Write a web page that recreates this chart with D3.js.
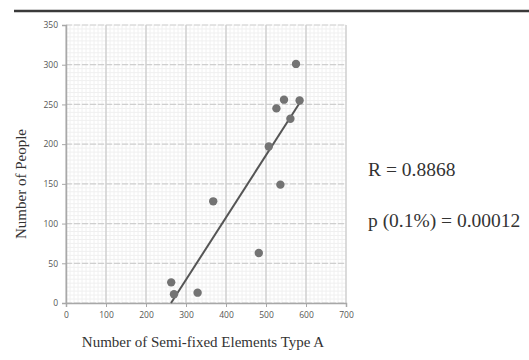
<!DOCTYPE html>
<html>
<head>
<meta charset="utf-8">
<script src="https://cdn.jsdelivr.net/npm/d3@7"></script>
<style>
body { margin: 0; background: #fff; }
</style>
</head>
<body>
<div id="chart"></div>
<script>
var elemsA = [263, 270, 329, 368, 482, 536, 507, 526, 545, 561, 575, 584];
var people = [26, 11, 13, 128, 63, 149, 197, 245, 256, 232, 301, 255];
var xTicks = [0, 100, 200, 300, 400, 500, 600, 700];
var yTicks = [0, 50, 100, 150, 200, 250, 300, 350];
var statLines = ["R = 0.8868", "p (0.1%) = 0.00012"];

var W = 529, H = 360;
var svg = d3.select("#chart").append("svg")
    .attr("width", W)
    .attr("height", H);

// top rule
svg.append("line")
    .attr("x1", 14).attr("x2", W)
    .attr("y1", 11).attr("y2", 11)
    .attr("stroke", "#3a3a3a")
    .attr("stroke-width", 2.5);

var x = d3.scaleLinear().domain([0, 700]).range([66, 346]);
var y = d3.scaleLinear().domain([0, 350]).range([303, 25]);

// minor grid
var g = svg.append("g");
g.selectAll(".mx").data(d3.range(0, 701, 10)).enter().append("line")
    .attr("x1", d => x(d)).attr("x2", d => x(d))
    .attr("y1", y(0)).attr("y2", y(350))
    .attr("stroke", "#f0f0f0").attr("stroke-width", 1);
g.selectAll(".my").data(d3.range(0, 351, 5)).enter().append("line")
    .attr("x1", x(0)).attr("x2", x(700))
    .attr("y1", d => y(d)).attr("y2", d => y(d))
    .attr("stroke", "#f0f0f0").attr("stroke-width", 1);

// major grid
g.selectAll(".Mx").data(xTicks).enter().append("line")
    .attr("x1", d => x(d)).attr("x2", d => x(d))
    .attr("y1", y(0)).attr("y2", y(350))
    .attr("stroke", "#c8c8c8").attr("stroke-width", 1.2);
g.selectAll(".My").data(yTicks).enter().append("line")
    .attr("x1", x(0)).attr("x2", x(700))
    .attr("y1", d => y(d)).attr("y2", d => y(d))
    .attr("stroke", "#cfcfcf").attr("stroke-width", 1.2)
    .attr("stroke-dasharray", "6,2");

// axes
var xAxis = svg.append("g")
    .attr("transform", "translate(0," + y(0) + ")")
    .call(d3.axisBottom(x).tickValues(xTicks).tickSize(4).tickPadding(5));
var yAxis = svg.append("g")
    .attr("transform", "translate(" + x(0) + ",0)")
    .call(d3.axisLeft(y).tickValues(yTicks).tickSize(4).tickPadding(4));
[xAxis, yAxis].forEach(function(a) {
    a.select(".domain").attr("stroke", "#a8a8a8").attr("stroke-width", 1.5);
    a.selectAll(".tick line").attr("stroke", "#a8a8a8");
    a.selectAll("text")
        .attr("fill", "#555")
        .style("font-family", "'Open Sans', sans-serif")
        .style("font-size", "8.5px");
});

// regression line from the points
var mx = d3.mean(elemsA), my = d3.mean(people);
var sxy = d3.sum(elemsA, (v, i) => (v - mx) * (people[i] - my));
var sxx = d3.sum(elemsA, v => (v - mx) * (v - mx));
var slope = sxy / sxx, icpt = my - slope * mx;
var x0 = -icpt / slope, x1 = d3.max(elemsA);
svg.append("line")
    .attr("x1", x(x0)).attr("y1", y(slope * x0 + icpt))
    .attr("x2", x(x1)).attr("y2", y(slope * x1 + icpt))
    .attr("stroke", "#555")
    .attr("stroke-width", 2);

// points
svg.selectAll(".pt").data(elemsA).enter().append("circle")
    .attr("cx", d => x(d))
    .attr("cy", (d, i) => y(people[i]))
    .attr("r", 4.2)
    .attr("fill", "#737373");

// axis titles
svg.append("text")
    .attr("x", 203).attr("y", 347)
    .attr("text-anchor", "middle")
    .style("font-family", "'Liberation Serif', serif")
    .style("font-size", "15px")
    .attr("fill", "#333")
    .text("Number of Semi-fixed Elements Type A");
svg.append("text")
    .attr("transform", "translate(26,184) rotate(-90)")
    .attr("text-anchor", "middle")
    .style("font-family", "'Liberation Serif', serif")
    .style("font-size", "15px")
    .attr("fill", "#333")
    .text("Number of People");

// stats
svg.selectAll(".stat").data(statLines).enter().append("text")
    .attr("x", 368)
    .attr("y", (d, i) => 176 + i * 51)
    .style("font-family", "'Liberation Serif', serif")
    .style("font-size", "19.5px")
    .attr("fill", "#333")
    .text(d => d);
</script>
</body>
</html>
